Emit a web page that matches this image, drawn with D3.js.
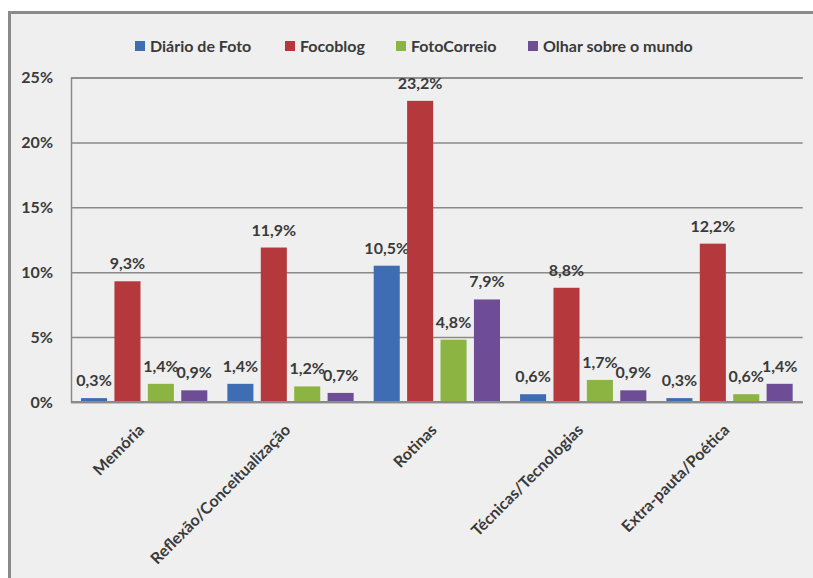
<!DOCTYPE html>
<html>
<head>
<meta charset="utf-8">
<script src="https://cdn.jsdelivr.net/npm/d3@7"></script>
<style>
  html, body { margin: 0; padding: 0; background: #ffffff; }
  svg { display: block; }
  text { font-family: Lato, "Open Sans", sans-serif; fill: #3a3a3a; font-weight: bold; }
</style>
</head>
<body>
<svg id="chart" width="813" height="578"></svg>
<script>
const categories = ["Memória", "Reflexão/Conceitualização", "Rotinas", "Técnicas/Tecnologias", "Extra-pauta/Poética"];
const seriesNames = ["Diário de Foto", "Focoblog", "FotoCorreio", "Olhar sobre o mundo"];
const diarioDeFoto = [0.3, 1.4, 10.5, 0.6, 0.3];
const focoblog = [9.3, 11.9, 23.2, 8.8, 12.2];
const fotoCorreio = [1.4, 1.2, 4.8, 1.7, 0.6];
const olharSobreOMundo = [0.9, 0.7, 7.9, 0.9, 1.4];
const yTicks = [0, 5, 10, 15, 20, 25];
const seriesColors = ["#3f6db3", "#b5393c", "#8bb443", "#6e4c96"];

const seriesValues = [diarioDeFoto, focoblog, fotoCorreio, olharSobreOMundo];
const fmt = v => v.toFixed(1).replace(".", ",") + "%";

const svg = d3.select("#chart");

// chart area background and frame
svg.append("rect").attr("x", 9.5).attr("y", 12.5).attr("width", 830).attr("height", 600)
  .attr("fill", "#efefef").attr("stroke", "#8a8a8a").attr("stroke-width", 3);

const x0 = d3.scaleBand().domain(categories).range([71, 802.7]).padding(0);
const x1 = d3.scaleBand().domain(seriesNames).range([0, x0.bandwidth()]).paddingInner(0.22).paddingOuter(0.3);
const y = d3.scaleLinear().domain([0, 25]).range([402, 77.5]);

// gridlines + y axis
const yAxis = d3.axisLeft(y).tickValues(yTicks).tickFormat(d => d + "%").tickSize(-(802.7 - 71)).tickPadding(18);
const gy = svg.append("g").attr("transform", "translate(71,0)").call(yAxis);
gy.select(".domain").attr("stroke", "#8a8a8a").attr("stroke-width", 1.5);
gy.selectAll(".tick line").attr("stroke", "#8a8a8a").attr("stroke-width", 1.5);
gy.selectAll(".tick text").style("font-family", "Lato, sans-serif").style("font-weight", "bold")
  .style("font-size", "16px").attr("fill", "#3a3a3a");

// bars
const groups = svg.append("g").selectAll("g").data(categories).join("g")
  .attr("transform", c => `translate(${x0(c)},0)`);

groups.each(function(c, ci) {
  const g = d3.select(this);
  seriesNames.forEach((s, si) => {
    const v = seriesValues[si][ci];
    g.append("rect")
      .attr("x", x1(s)).attr("width", x1.bandwidth())
      .attr("y", y(v)).attr("height", y(0) - y(v))
      .attr("fill", seriesColors[si]);
    g.append("text")
      .attr("x", x1(s) + x1.bandwidth() / 2)
      .attr("y", y(v) - 12)
      .attr("text-anchor", "middle")
      .style("font-size", "16px")
      .text(fmt(v));
  });
});

// x axis baseline
svg.append("line").attr("x1", 71).attr("x2", 802.7).attr("y1", y(0)).attr("y2", y(0))
  .attr("stroke", "#8a8a8a").attr("stroke-width", 2);

// category labels
svg.append("g").selectAll("text").data(categories).join("text")
  .attr("transform", c => `translate(${x0(c) + x0.bandwidth() / 2 + 1},431) rotate(-45)`)
  .attr("text-anchor", "end")
  .style("font-size", "16px")
  .text(c => c);

// legend
const legendX = [135, 285, 396, 528];
const legend = svg.append("g");
seriesNames.forEach((s, i) => {
  legend.append("rect").attr("x", legendX[i]).attr("y", 41).attr("width", 10).attr("height", 10).attr("fill", seriesColors[i]);
  legend.append("text").attr("x", legendX[i] + 15).attr("y", 51.5).style("font-size", "16px").text(s);
});
</script>
</body>
</html>
